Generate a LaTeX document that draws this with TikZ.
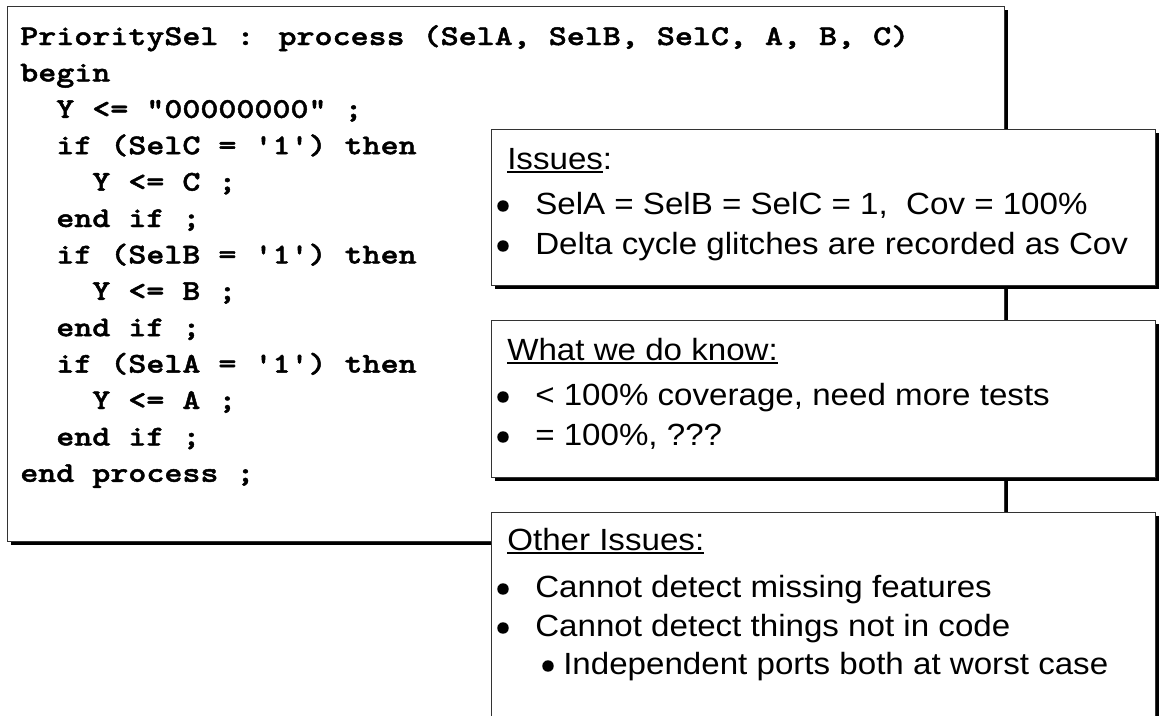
\documentclass[tikz,border=0pt]{standalone}
\usepackage{fontspec}
\setmainfont{Liberation Sans}[FakeStretch=1.08]
\newfontfamily\codefont{lmmonolt10-bold.otf}[FakeStretch=1.2, FakeBold=1.6]

% heading with a heavy underline
\newcommand\hdr[1]{\leavevmode\setbox0\hbox{#1}\rlap{\rule[-2.8pt]{\wd0}{1.4pt}}\box0}
\newcommand\sq{\char"0027\relax}
\newcommand\dq{\char"0022\relax}

\tikzset{
  panel/.style={draw=black!80, line width=1pt, fill=white, anchor=north west,
    inner sep=0pt, minimum width=#1},
  panel/.default=498pt,
  shadowed/.style={drop shadow={shadow xshift=2.4pt, shadow yshift=-2.4pt,
    fill=black, opacity=1}},
  codeline/.style={anchor=base west, inner sep=0pt,
    font=\codefont\fontsize{21.45}{24}\selectfont},
  txtline/.style={anchor=base west, inner sep=0pt,
    font=\fontsize{23}{27}\selectfont},
  dot/.style={fill=black, draw=none},
}
\usetikzlibrary{shadows}

\begin{document}
\begin{tikzpicture}[x=0.75pt, y=-0.75pt]
\useasboundingbox (0,0) rectangle (1159,715);
\fill[white] (0,0) rectangle (1159,715);

% code panel
\node[panel=747.75pt, shadowed, minimum height=401.25pt] (code) at (7,6) {};
\node[codeline] (c1)  at (20,45.0)  {PrioritySel : process (SelA, SelB, SelC, A, B, C)};
\node[codeline] (c2)  at (20,81.4)  {begin};
\node[codeline] (c3)  at (56,117.8) {Y <= \dq 00000000\dq\ ;};
\node[codeline] (c4)  at (56,154.2) {if (SelC = \sq 1\sq) then};
\node[codeline] (c5)  at (92,190.6) {Y <= C ;};
\node[codeline] (c6)  at (56,227.0) {end if ;};
\node[codeline] (c7)  at (56,263.4) {if (SelB = \sq 1\sq) then};
\node[codeline] (c8)  at (92,299.8) {Y <= B ;};
\node[codeline] (c9)  at (56,336.2) {end if ;};
\node[codeline] (c10) at (56,372.6) {if (SelA = \sq 1\sq) then};
\node[codeline] (c11) at (92,409.0) {Y <= A ;};
\node[codeline] (c12) at (56,445.4) {end if ;};
\node[codeline] (c13) at (20,481.8) {end process ;};

% issues panel
\node[panel, shadowed, minimum height=117pt] (issues) at (491,129) {};
\node[txtline] (i0) at (507,169) {\hdr{Issues}:};
\fill[dot] (503,206) circle (4.3pt);
\node[txtline] (i1) at (535,214) {SelA = SelB = SelC = 1,\ \ Cov = 100\%};
\fill[dot] (503,246) circle (4.3pt);
\node[txtline] (i2) at (535,254) {Delta cycle glitches are recorded as Cov};

% what we know panel
\node[panel, shadowed, minimum height=117.75pt] (know) at (491,320) {};
\node[txtline] (w0) at (507,360) {\hdr{What we do know:}};
\fill[dot] (503,397) circle (4.3pt);
\node[txtline] (w1) at (535,405) {< 100\% coverage, need more tests};
\fill[dot] (503,437) circle (4.3pt);
\node[txtline] (w2) at (535,445) {= 100\%, ???};

% other issues panel
\node[panel, shadowed, minimum height=187.5pt] (other) at (491,512) {};
\node[txtline] (o0) at (507,550) {\hdr{Other Issues:}};
\fill[dot] (503,589) circle (4.3pt);
\node[txtline] (o1) at (535,597) {Cannot detect missing features};
\fill[dot] (503,628) circle (4.3pt);
\node[txtline] (o2) at (535,636) {Cannot detect things not in code};
\fill[dot] (548,666) circle (4.3pt);
\node[txtline] (o3) at (563,674) {Independent ports both at worst case};
\end{tikzpicture}
\end{document}
